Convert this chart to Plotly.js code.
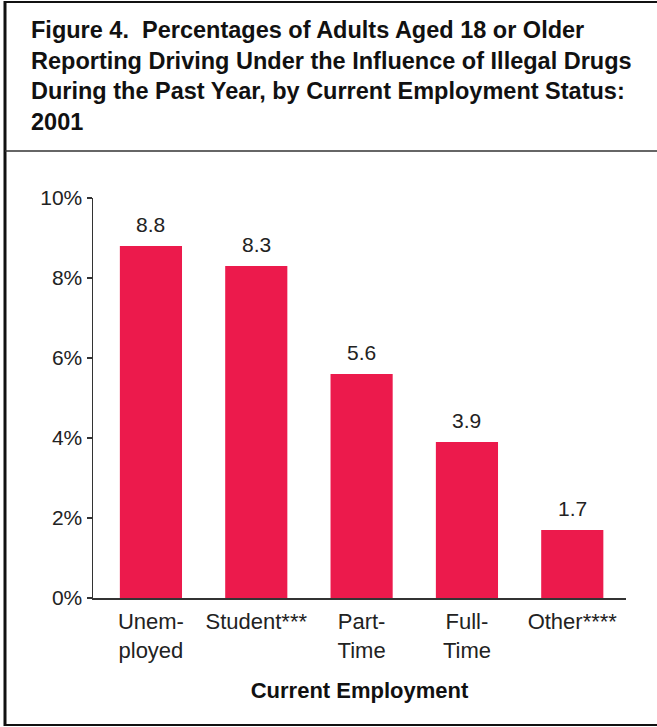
<!DOCTYPE html>
<html>
<head>
<meta charset="utf-8">
<script src="https://cdn.plot.ly/plotly-3.0.1.min.js"></script>
<style>html,body{margin:0;padding:0;background:#fff;}#chart{width:657px;height:727px;}</style>
</head>
<body>
<div id="chart"></div>
<script>
// Data
const categories = ["Unem-<br>ployed", "Student***", "Part-<br>Time", "Full-<br>Time", "Other****"];
const values = [8.8, 8.3, 5.6, 3.9, 1.7];
const valueLabels = ["8.8", "8.3", "5.6", "3.9", "1.7"];
const yTickVals = [0, 2, 4, 6, 8, 10];
const yTickText = ["0%", "2%", "4%", "6%", "8%", "10%"];
const titleLines = [
  "Figure 4.  Percentages of Adults Aged 18 or Older",
  "Reporting Driving Under the Influence of Illegal Drugs",
  "During the Past Year, by Current Employment Status:",
  "2001"
];
const xTitle = "Current Employment";

const W = 657, H = 727;
const M = {l: 93, r: 31, t: 198, b: 129};
const pw = W - M.l - M.r, ph = H - M.t - M.b;
const px = x => (x - M.l) / pw;
const py = y => (H - M.b - y) / ph;

const font = "Liberation Sans, Arial, Helvetica, sans-serif";
const barColor = "#EC1A4C";
const ink = "#222222";

const catIdx = categories.map((c, i) => i);

const trace = {
  type: "bar",
  x: catIdx,
  y: values,
  marker: {color: barColor, line: {width: 0}},
  width: 0.59,
  hoverinfo: "skip"
};

const annotations = [];
values.forEach((v, i) => {
  annotations.push({
    x: i, y: v, xref: "x", yref: "y",
    text: valueLabels[i], showarrow: false,
    yanchor: "bottom", yshift: 8,
    font: {family: font, size: 21, color: ink}
  });
});
const titleCenters = [30, 61, 91, 122];
titleLines.forEach((t, i) => {
  annotations.push({
    x: px(29), y: py(titleCenters[i]), xref: "paper", yref: "paper",
    xanchor: "left", yanchor: "middle", showarrow: false,
    text: "<b>" + t + "</b>",
    font: {family: font, size: 23.5, color: "#111"}
  });
});

const shapes = [
  {type: "line", xref: "paper", yref: "paper", x0: px(5), x1: px(5), y0: py(1), y1: py(726), line: {color: "#111", width: 3}},
  {type: "line", xref: "paper", yref: "paper", x0: px(4), x1: px(657), y0: py(2), y1: py(2), line: {color: "#111", width: 2}},
  {type: "line", xref: "paper", yref: "paper", x0: px(4), x1: px(657), y0: py(725), y1: py(725), line: {color: "#111", width: 2}},
  {type: "line", xref: "paper", yref: "paper", x0: px(5), x1: px(657), y0: py(151), y1: py(151), line: {color: "#333", width: 1.5}}
];

const layout = {
  width: W, height: H,
  margin: M,
  paper_bgcolor: "#fff", plot_bgcolor: "#fff",
  showlegend: false,
  font: {family: font, size: 20, color: ink},
  xaxis: {
    range: [-0.55, 4.51],
    tickmode: "array", tickvals: catIdx, ticktext: categories,
    showline: true, linecolor: "#333", linewidth: 1.5,
    ticks: "", showgrid: false, zeroline: false,
    ticklabelstandoff: 3,
    tickfont: {family: font, size: 22, color: ink},
    title: {text: "<b>" + xTitle + "</b>", font: {family: font, size: 22, color: "#111"}, standoff: 21},
    automargin: false, fixedrange: true
  },
  yaxis: {
    range: [0, 10],
    tickmode: "array", tickvals: yTickVals, ticktext: yTickText,
    showline: true, linecolor: "#333", linewidth: 1.5,
    ticks: "outside", ticklen: 5, tickcolor: "#333", tickwidth: 1.5,
    showgrid: false, zeroline: false,
    tickfont: {family: font, size: 21, color: ink},
    automargin: false, fixedrange: true
  },
  annotations: annotations,
  shapes: shapes
};

Plotly.newPlot("chart", [trace], layout, {displayModeBar: false, staticPlot: true});
</script>
</body>
</html>
